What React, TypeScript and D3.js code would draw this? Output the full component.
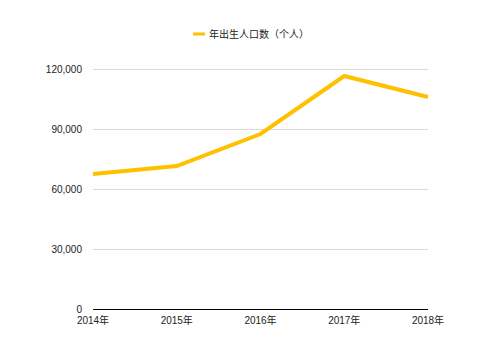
import React, { useEffect, useRef } from 'react';
import * as d3 from 'd3';

const years = ['2014年', '2015年', '2016年', '2017年', '2018年'];
const births = [67500, 71500, 87500, 116500, 106000];
const yTicks = [0, 30000, 60000, 90000, 120000];
const seriesName = '年出生人口数（个人）';

const App: React.FC = () => {
  const svgRef = useRef<SVGSVGElement>(null);

  useEffect(() => {
    if (!svgRef.current) return;
    const svg = d3.select(svgRef.current);
    svg.selectAll('*').remove();

    const width = 500;
    const height = 352;
    const left = 93;
    const right = 428;
    const top = 69;
    const bottom = 309;
    const font = 'Helvetica, Arial, "Noto Sans CJK SC", sans-serif';

    const x = d3.scalePoint<string>().domain(years).range([left, right]);
    const y = d3.scaleLinear().domain([0, 120000]).range([bottom, top]);

    svg.attr('width', width).attr('height', height);

    // grid lines
    svg.append('g')
      .selectAll('line')
      .data(yTicks.filter(d => d > 0))
      .join('line')
      .attr('x1', left)
      .attr('x2', right)
      .attr('y1', d => y(d) + 0.5)
      .attr('y2', d => y(d) + 0.5)
      .attr('stroke', '#d9d9d9')
      .attr('stroke-width', 1);

    // y tick labels
    svg.append('g')
      .selectAll('text')
      .data(yTicks)
      .join('text')
      .attr('x', 82)
      .attr('y', d => y(d))
      .attr('dy', '0.35em')
      .attr('text-anchor', 'end')
      .attr('font-family', font)
      .attr('font-size', 10)
      .attr('fill', '#222')
      .text(d => d3.format(',')(d));

    // x axis line
    svg.append('line')
      .attr('x1', left)
      .attr('x2', right)
      .attr('y1', bottom + 0.5)
      .attr('y2', bottom + 0.5)
      .attr('stroke', '#000')
      .attr('stroke-width', 1);

    // x labels
    svg.append('g')
      .selectAll('text')
      .data(years)
      .join('text')
      .attr('x', d => x(d)!)
      .attr('y', bottom + 15)
      .attr('text-anchor', 'middle')
      .attr('font-family', font)
      .attr('font-size', 10)
      .attr('fill', '#222')
      .text(d => d);

    // line
    const line = d3.line<number>()
      .x((_, i) => x(years[i])!)
      .y(d => y(d));

    svg.append('path')
      .datum(births)
      .attr('d', line)
      .attr('fill', 'none')
      .attr('stroke', '#FFC000')
      .attr('stroke-width', 4)
      .attr('stroke-linejoin', 'miter');

    // legend
    svg.append('line')
      .attr('x1', 193)
      .attr('x2', 205)
      .attr('y1', 34)
      .attr('y2', 34)
      .attr('stroke', '#FFC000')
      .attr('stroke-width', 3);

    svg.append('text')
      .attr('x', 209)
      .attr('y', 34)
      .attr('dy', '0.35em')
      .attr('font-family', font)
      .attr('font-size', 10)
      .attr('fill', '#222')
      .text(seriesName);
  }, []);

  return (
    <div style={{ margin: -8 }}>
      <svg ref={svgRef} style={{ display: 'block' }}></svg>
    </div>
  );
};

export default App;
